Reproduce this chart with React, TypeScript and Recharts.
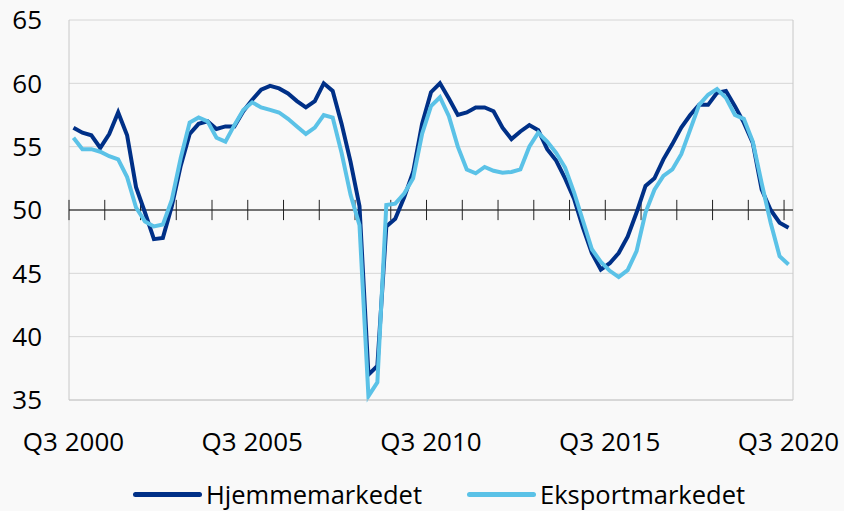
import { LineChart, Line, XAxis, YAxis, CartesianGrid, ReferenceLine } from "recharts"

// Quarterly index, Q3 2000 .. Q3 2020
const hjemmemarkedet = [
  56.5, 56.1, 55.9, 54.9, 56.0, 57.7, 55.9, 51.8, 49.8, 47.7,
  47.8, 50.3, 53.5, 56.0, 56.8, 57.0, 56.4, 56.6, 56.6, 57.8,
  58.7, 59.5, 59.8, 59.6, 59.2, 58.6, 58.1, 58.6, 60.0, 59.4,
  56.8, 53.8, 50.3, 37.0, 37.7, 48.7, 49.3, 51.0, 53.0, 56.8,
  59.3, 60.0, 58.8, 57.5, 57.7, 58.1, 58.1, 57.8, 56.5, 55.6,
  56.2, 56.7, 56.3, 54.8, 53.9, 52.5, 50.9, 48.6, 46.6, 45.3,
  45.8, 46.6, 47.9, 49.8, 51.9, 52.5, 54.0, 55.2, 56.5, 57.5,
  58.3, 58.3, 59.25, 59.4, 58.2, 56.9, 55.3, 51.6, 50.0, 49.0,
  48.6,
]

const eksportmarkedet = [
  55.7, 54.8, 54.8, 54.6, 54.25, 54.0, 52.6, 50.2, 49.1, 48.7,
  48.85, 50.8, 54.1, 56.9, 57.3, 57.0, 55.7, 55.4, 56.7, 57.9,
  58.5, 58.1, 57.9, 57.7, 57.2, 56.6, 56.0, 56.5, 57.5, 57.3,
  54.5, 51.2, 48.8, 35.3, 36.4, 50.4, 50.5, 51.3, 52.5, 56.0,
  58.2, 58.9, 57.4, 55.0, 53.2, 52.9, 53.4, 53.1, 52.95, 53.0,
  53.2, 55.0, 56.1, 55.4, 54.5, 53.35, 51.4, 49.15, 46.9, 45.9,
  45.2, 44.7, 45.25, 46.75, 49.8, 51.6, 52.7, 53.2, 54.4, 56.35,
  58.3, 59.1, 59.55, 58.85, 57.5, 57.2, 55.4, 52.1, 49.0, 46.35,
  45.7,
]

const xTickLabels = ["Q3 2000", "Q3 2005", "Q3 2010", "Q3 2015", "Q3 2020"]
const yTicks = [35, 40, 45, 50, 55, 60, 65]

const seriesNames = ["Hjemmemarkedet", "Eksportmarkedet"]
const darkBlue = "#003087"
const lightBlue = "#5BC2E7"

const quarters = hjemmemarkedet.map((_, i) => {
  const q = ((2 + i) % 4) + 1
  const year = 2000 + Math.floor((2 + i) / 4)
  return `Q${q} ${year}`
})

const chartData = quarters.map((quarter, i) => ({
  idx: i,
  quarter,
  hjemme: hjemmemarkedet[i],
  eksport: eksportmarkedet[i],
}))

const xTicks = xTickLabels.map((label) => quarters.indexOf(label))
// year boundaries (between Q2 and Q3) for the small ticks on the 50-line
const yearMarks = quarters
  .map((_, i) => i)
  .filter((i) => i % 4 === 0)
  .map((i) => i - 0.5)

const font = "'Open Sans', sans-serif"

function LegendItem({ color, label, left }: { color: string; label: string; left: number }) {
  return (
    <div
      style={{
        position: "absolute",
        left,
        top: 477,
        display: "flex",
        alignItems: "center",
        fontFamily: font,
        fontSize: 25.5,
        color: "#000",
        whiteSpace: "nowrap",
      }}
    >
      <div style={{ width: 69, height: 5, background: color, borderRadius: 3, marginRight: 4 }} />
      <span>{label}</span>
    </div>
  )
}

export default function App() {
  return (
    <div style={{ position: "relative", width: 844, height: 511, background: "#f9f9f9", overflow: "hidden" }}>
      <style>{`body{margin:0;background:#f9f9f9}`}</style>
      <LineChart
        width={844}
        height={511}
        data={chartData}
        margin={{ top: 20, right: 51, left: 0, bottom: 51 }}
      >
        <CartesianGrid vertical={false} stroke="#d6d6d6" />
        <XAxis
          dataKey="idx"
          type="number"
          domain={[-0.5, quarters.length - 0.5]}
          ticks={xTicks}
          interval={0}
          tickFormatter={(v) => quarters[Number(v)]}
          tickLine={false}
          tickSize={0}
          tickMargin={33}
          height={60}
          axisLine={{ stroke: "#c8c8c8" }}
          tick={{ fill: "#000", fontSize: 26, fontFamily: font }}
        />
        <YAxis
          domain={[35, 65]}
          ticks={yTicks}
          interval={0}
          width={69}
          axisLine={false}
          tickLine={false}
          tickSize={0}
          tickMargin={27}
          tick={{ fill: "#000", fontSize: 26, fontFamily: font }}
        />
        <ReferenceLine x={-0.5} stroke="#c8c8c8" />
        <ReferenceLine x={quarters.length - 0.5} stroke="#c8c8c8" />
        <ReferenceLine y={50} stroke="#000" />
        {yearMarks.map((m) => (
          <ReferenceLine
            key={m}
            segment={[
              { x: m, y: 49.2 },
              { x: m, y: 50.8 },
            ]}
            stroke="#222"
          />
        ))}
        <Line
          dataKey="hjemme"
          name={seriesNames[0]}
          stroke={darkBlue}
          strokeWidth={4}
          dot={false}
          isAnimationActive={false}
        />
        <Line
          dataKey="eksport"
          name={seriesNames[1]}
          stroke={lightBlue}
          strokeWidth={4}
          dot={false}
          isAnimationActive={false}
        />
      </LineChart>
      <LegendItem color={darkBlue} label={seriesNames[0]} left={133} />
      <LegendItem color={lightBlue} label={seriesNames[1]} left={467} />
    </div>
  )
}
